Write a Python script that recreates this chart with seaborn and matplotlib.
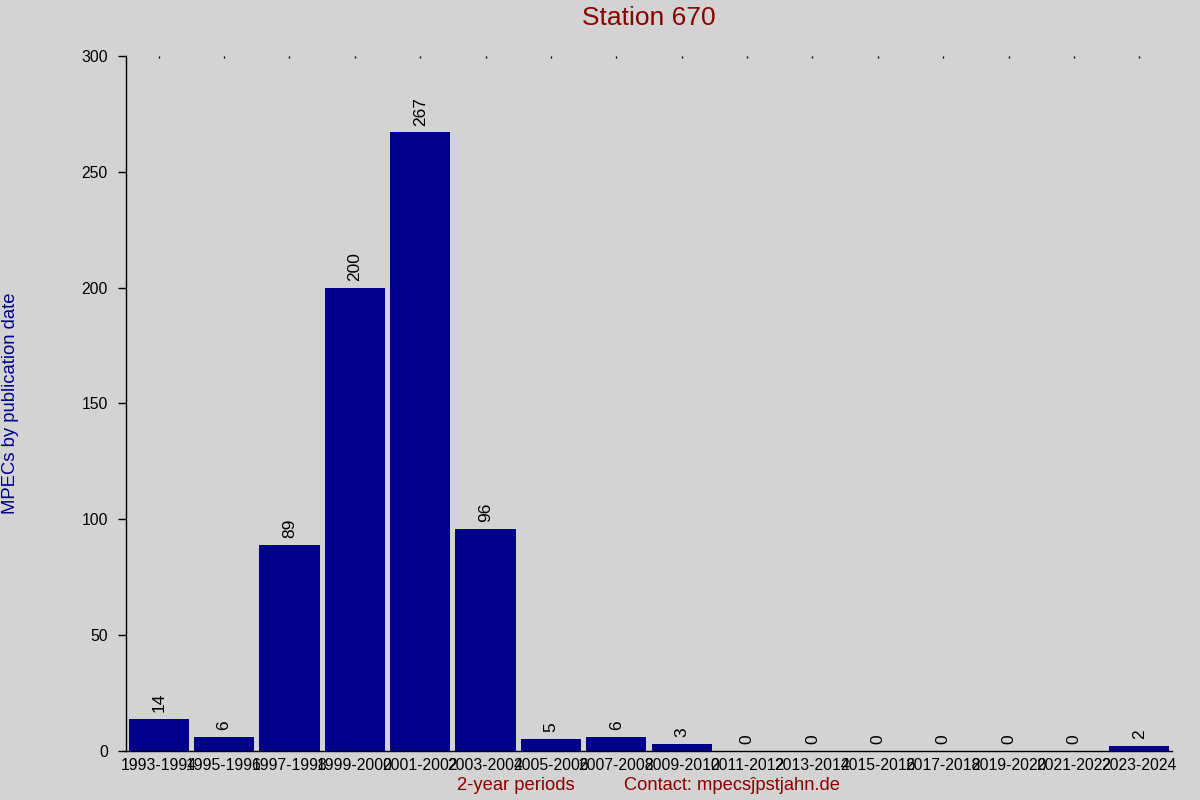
import matplotlib
matplotlib.use("Agg")
import matplotlib.pyplot as plt
import seaborn as sns

periods = ["1993-1994", "1995-1996", "1997-1998", "1999-2000", "2001-2002",
           "2003-2004", "2005-2006", "2007-2008", "2009-2010", "2011-2012",
           "2013-2014", "2015-2016", "2017-2018", "2019-2020", "2021-2022",
           "2023-2024"]
counts = [14, 6, 89, 200, 267, 96, 5, 6, 3, 0, 0, 0, 0, 0, 0, 2]
yticks = [0, 50, 100, 150, 200, 250, 300]

sns.set_style("white")
plt.rcParams['font.family'] = ['Liberation Sans', 'DejaVu Sans']

bg = "#d3d3d3"
fig = plt.figure(figsize=(12, 8), dpi=100, facecolor=bg)
ax = fig.add_axes([126 / 1200, 1 - 751 / 800, 1046 / 1200, 695 / 800])
ax.set_facecolor(bg)

sns.barplot(x=periods, y=counts, color="#00008b", saturation=1, width=0.92,
            ax=ax, edgecolor="none")
ax.bar_label(ax.containers[0], labels=[str(c) for c in counts], rotation=90,
             padding=5, fontsize=12.5, color="black")

ax.set_xlim(-0.5, len(periods) - 0.5)
ax.set_ylim(0, 300)
ax.set_yticks(yticks)
ax.set_xlabel("")
ax.set_ylabel("")

for side in ["top", "right"]:
    ax.spines[side].set_visible(False)
for side in ["left", "bottom"]:
    ax.spines[side].set_color("black")
    ax.spines[side].set_linewidth(1)

ax.tick_params(axis="y", left=True, length=6, width=1, color="black",
               labelsize=11.3, pad=7, labelcolor="black")
ax.tick_params(axis="x", bottom=False, top=True, direction="in", length=1.2,
               width=1, color="black", labelsize=11.3, pad=5,
               labelcolor="black")

fig.text(649 / 1200, 1 - 18 / 800, "Station 670", ha="center", va="center",
         fontsize=19, color="#8b0000")
fig.text(11 / 1200, 1 - 403 / 800, "MPECs by publication date", rotation=90,
         ha="center", va="center", fontsize=13.3, color="#00008b")
fig.text(516 / 1200, 1 - 786 / 800, "2-year periods", ha="center",
         va="center", fontsize=13.2, color="#8b0000")
fig.text(732 / 1200, 1 - 786 / 800, "Contact: mpecs\u0135pstjahn.de",
         ha="center", va="center", fontsize=13.2, color="#8b0000")

fig.savefig("out.png", dpi=100, facecolor=bg)
